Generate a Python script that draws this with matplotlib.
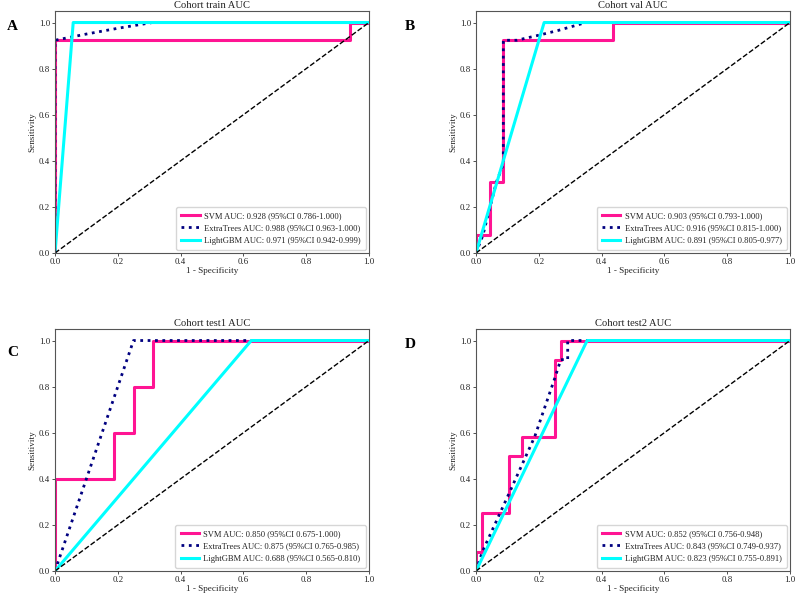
import matplotlib
matplotlib.use("Agg")
import matplotlib.pyplot as plt

plt.rcParams['font.family'] = ['Liberation Serif', 'DejaVu Serif']

W, H = 796, 593

titles = ["Cohort train AUC", "Cohort val AUC", "Cohort test1 AUC", "Cohort test2 AUC"]
letters = ["A", "B", "C", "D"]
model_names = ["SVM", "ExtraTrees", "LightGBM"]

# Panel A (train)
train_svm_fpr = [0.0, 0.0, 0.94, 0.94, 1.0]
train_svm_tpr = [0.0, 0.923, 0.923, 1.0, 1.0]
train_et_fpr = [0.0, 0.0, 0.1, 0.2, 0.31, 1.0]
train_et_tpr = [0.0, 0.923, 0.95, 0.975, 1.0, 1.0]
train_lgb_fpr = [0.0, 0.058, 1.0]
train_lgb_tpr = [0.0, 1.0, 1.0]
train_auc = ["0.928 (95%CI 0.786-1.000)", "0.988 (95%CI 0.963-1.000)", "0.971 (95%CI 0.942-0.999)"]

# Panel B (val)
val_svm_fpr = [0.0, 0.0, 0.043, 0.043, 0.087, 0.087, 0.435, 0.435, 1.0]
val_svm_tpr = [0.0, 0.077, 0.077, 0.308, 0.308, 0.923, 0.923, 1.0, 1.0]
val_et_fpr = [0.0, 0.022, 0.065, 0.087, 0.087, 0.13, 0.2, 0.26, 0.35, 1.0]
val_et_tpr = [0.0, 0.077, 0.308, 0.385, 0.923, 0.923, 0.945, 0.965, 1.0, 1.0]
val_lgb_fpr = [0.0, 0.217, 1.0]
val_lgb_tpr = [0.0, 1.0, 1.0]
val_auc = ["0.903 (95%CI 0.793-1.000)", "0.916 (95%CI 0.815-1.000)", "0.891 (95%CI 0.805-0.977)"]

# Panel C (test1)
t1_svm_fpr = [0.0, 0.0, 0.1875, 0.1875, 0.25, 0.25, 0.3125, 0.3125, 1.0]
t1_svm_tpr = [0.0, 0.4, 0.4, 0.6, 0.6, 0.8, 0.8, 1.0, 1.0]
t1_et_fpr = [0.0, 0.25, 1.0]
t1_et_tpr = [0.0, 1.0, 1.0]
t1_lgb_fpr = [0.0, 0.625, 1.0]
t1_lgb_tpr = [0.0, 1.0, 1.0]
t1_auc = ["0.850 (95%CI 0.675-1.000)", "0.875 (95%CI 0.765-0.985)", "0.688 (95%CI 0.565-0.810)"]

# Panel D (test2)
t2_svm_fpr = [0.0, 0.0, 0.02, 0.02, 0.104, 0.104, 0.146, 0.146, 0.25, 0.25, 0.27, 0.27, 1.0]
t2_svm_tpr = [0.0, 0.083, 0.083, 0.25, 0.25, 0.5, 0.5, 0.583, 0.583, 0.917, 0.917, 1.0, 1.0]
t2_et_fpr = [0.0, 0.02, 0.104, 0.187, 0.25, 0.27, 0.292, 0.292, 1.0]
t2_et_tpr = [0.0, 0.083, 0.333, 0.583, 0.833, 0.917, 0.917, 1.0, 1.0]
t2_lgb_fpr = [0.0, 0.354, 1.0]
t2_lgb_tpr = [0.0, 1.0, 1.0]
t2_auc = ["0.852 (95%CI 0.756-0.948)", "0.843 (95%CI 0.749-0.937)", "0.823 (95%CI 0.755-0.891)"]

panels = [
    (train_svm_fpr, train_svm_tpr, train_et_fpr, train_et_tpr, train_lgb_fpr, train_lgb_tpr, train_auc),
    (val_svm_fpr, val_svm_tpr, val_et_fpr, val_et_tpr, val_lgb_fpr, val_lgb_tpr, val_auc),
    (t1_svm_fpr, t1_svm_tpr, t1_et_fpr, t1_et_tpr, t1_lgb_fpr, t1_lgb_tpr, t1_auc),
    (t2_svm_fpr, t2_svm_tpr, t2_et_fpr, t2_et_tpr, t2_lgb_fpr, t2_lgb_tpr, t2_auc),
]

# pixel boxes: (left, top_of_axes, right, bottom)
boxes = [(55, 11, 369, 253), (476, 11, 790, 253), (55, 329, 369, 571), (476, 329, 790, 571)]
letter_pos = [(7, 27), (405, 27), (7, 353), (405, 344)]

colors = ["#ff1493", "#000080", "#00ffff"]
styles = ["-", ":", "-"]
widths = [2.2, 2.0, 2.2]

fig = plt.figure(figsize=(W / 100, H / 100), dpi=100)
fig.patch.set_facecolor("white")

for i, (p, box, title, letter, lp) in enumerate(zip(panels, boxes, titles, letters, letter_pos)):
    l, t, r, b = box
    ax = fig.add_axes([l / W, (H - b) / H, (r - l) / W, (b - t) / H])
    curves = [(p[0], p[1]), (p[2], p[3]), (p[4], p[5])]
    for (fx, ty), name, auc, c, ls, lw in zip(curves, model_names, p[6], colors, styles, widths):
        ax.plot(fx, ty, color=c, linestyle=ls, linewidth=lw, label=f"{name} AUC: {auc}")
    ax.plot([0, 1], [0, 1], color="black", linestyle="--", linewidth=1.0)
    ax.set_xlim(0, 1)
    ax.set_ylim(0, 1.05)
    ax.set_xticks([0, 0.2, 0.4, 0.6, 0.8, 1.0])
    ax.set_yticks([0, 0.2, 0.4, 0.6, 0.8, 1.0])
    ax.tick_params(labelsize=6.4, length=2, width=0.6, pad=1.5, colors="#333333", labelcolor="#222222")
    for s in ax.spines.values():
        s.set_color("#555555")
        s.set_linewidth(0.8)
    ax.set_title(title, fontsize=7.6, pad=2, color="#222222")
    ax.set_xlabel("1 - Specificity", fontsize=6.6, labelpad=1, color="#222222")
    ax.set_ylabel("Sensitivity", fontsize=6.6, labelpad=2, color="#222222")
    leg = ax.legend(loc="lower right", fontsize=6.1, handlelength=2.2, handletextpad=0.5,
                    borderpad=0.6, labelspacing=0.5, borderaxespad=0.4)
    for txt in leg.get_texts():
        txt.set_color("#222222")
    fig.text(lp[0] / W, 1 - lp[1] / H, letter, fontsize=11, fontweight="bold", ha="left", va="center")

fig.savefig("out.png", dpi=100)
